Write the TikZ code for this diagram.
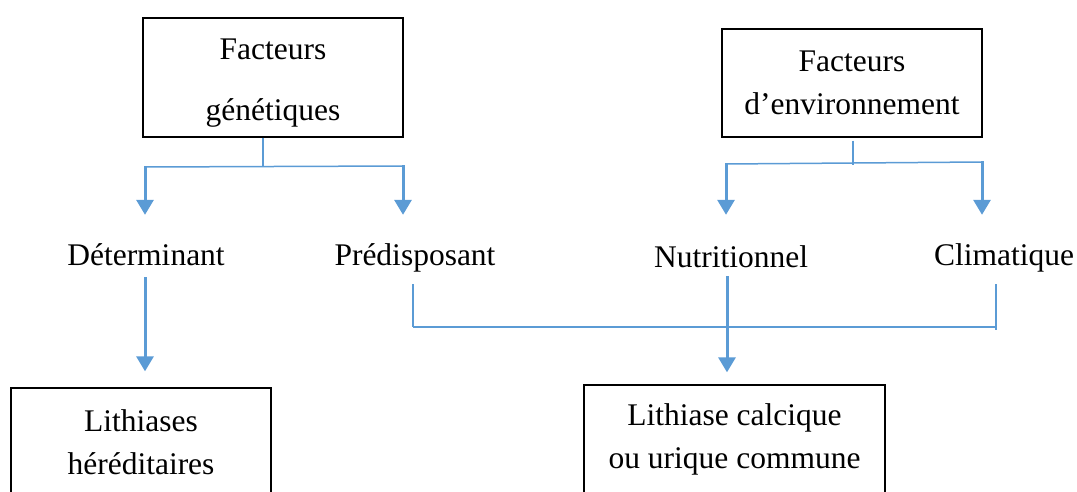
\documentclass[tikz,border=0pt]{standalone}
\usepackage{fontspec}
\setmainfont{Liberation Serif}
\usetikzlibrary{arrows.meta}
\definecolor{linkblue}{HTML}{5B9BD5}
\begin{document}
\begin{tikzpicture}[x=1pt,y=-1pt,
  box/.style={draw=black, line width=1.3pt, inner sep=0pt, align=center,
    font=\fontsize{31.5}{43}\selectfont},
  lbl/.style={inner sep=0pt, anchor=base, text height=22pt, text depth=7pt,
    font=\fontsize{31.5}{38}\selectfont},
  link/.style={draw=linkblue, line width=1.5pt},
  feed/.style={draw=linkblue, line width=3pt, -{Triangle[width=17pt,length=15pt]}}]
\useasboundingbox (0,0) rectangle (1077,492);
\clip (0,0) rectangle (1077,492);

% factor boxes
\node[box, minimum width=260pt, minimum height=119pt] (gen) at (273,77.5)
  {\rule{0pt}{31pt}Facteurs\\[18pt]génétiques};
\node[box, minimum width=260pt, minimum height=108pt] (env) at (852,83) {Facteurs\\d’environnement};

% factor types
\node[lbl] (det) at (146,265) {Déterminant};
\node[lbl] (pred) at (415,265) {Prédisposant};
\node[lbl] (nutr) at (731,267) {Nutritionnel};
\node[lbl] (clim) at (1004,265) {Climatique};

% resulting stone types (boxes run past the lower edge)
\node[box, minimum width=260pt, minimum height=108pt] (her) at (141,442) {Lithiases\\héréditaires};
\node[box, minimum width=301pt, minimum height=109pt] (com) at (734.5,439.5) {Lithiase calcique\\ou urique commune};

% genetic branch
\coordinate (gj) at (263,166);
\coordinate (gl) at (145,167);
\coordinate (gr) at (403,166);
\draw[link] (gen.south -| gj) -- (gj);
\draw[link] (gl) -- (gr);
\draw[feed, shorten >=28pt] ([yshift=0.7pt]gl) -- (gl |- det.north);
\draw[feed, shorten >=28pt] ([yshift=0.7pt]gr) -- (gr |- pred.north);

% environmental branch
\coordinate (ej) at (853,163);
\coordinate (el) at (726,164);
\coordinate (er) at (982,162);
\draw[link, shorten <=3pt] (env.south -| ej) -- ([yshift=-2pt]ej);
\draw[link] (el) -- (er);
\draw[feed, shorten >=28pt] ([yshift=0.7pt]el) -- (el |- det.north);
\draw[feed, shorten >=28pt] ([yshift=0.7pt]er) -- (er |- clim.north);

% hereditary stones
\draw[feed, shorten <=5pt, shorten >=16pt] (det.south -| gl) -- (her.north -| gl);

% common stones
\coordinate (bl) at (413,327);
\coordinate (bm) at (727,327);
\coordinate (br) at (996,327);
\draw[link, shorten <=12pt] (pred.south -| bl) -- (bl);
\draw[link, shorten <=12pt] (clim.south -| br) -- ([yshift=-3pt]br);
\draw[link] (bl) -- (br);
\draw[feed, shorten <=2pt, shorten >=12pt] (nutr.south -| bm) -- (com.north -| bm);
\end{tikzpicture}
\end{document}
